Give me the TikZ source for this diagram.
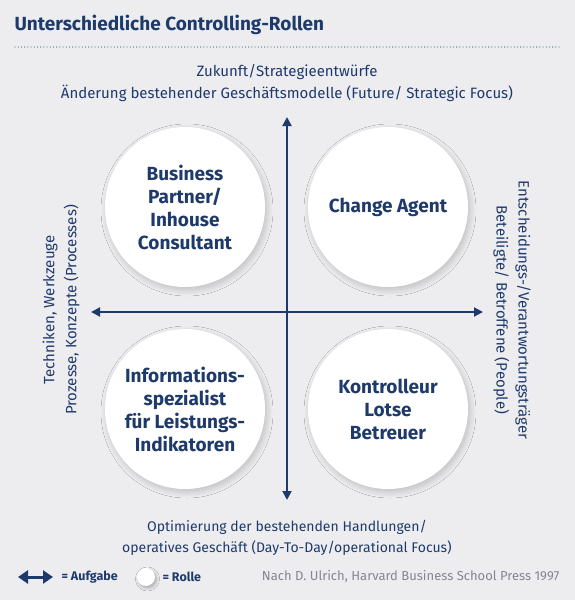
\documentclass[tikz,border=0pt]{standalone}
\usepackage{fontspec}
\setmainfont{Fira Sans}
\usepackage{tikz}
\usetikzlibrary{arrows.meta,positioning,shadows.blur}

\definecolor{navy}{HTML}{1E3A6B}
\definecolor{bggray}{HTML}{EDEDF0}
\definecolor{srcgray}{HTML}{858592}

\begin{document}
\begin{tikzpicture}[x=1pt, y=-1pt,
        rolle/.style  = {circle, fill=white, minimum size=160pt, inner sep=0pt,
                         align=center, text=navy,
                         font=\bfseries\fontsize{19}{23}\selectfont,
                         blur shadow={shadow xshift=2pt, shadow yshift=-3pt,
                                      shadow blur radius=6pt, shadow blur steps=12,
                                      shadow opacity=20}},
        achse/.style  = {{Triangle[length=9pt, width=9pt]}-{Triangle[length=9pt, width=9pt]},
                         line width=1.9pt, navy},
        lbl/.style    = {align=center, text=navy, font=\fontsize{15}{22}\selectfont},
    ]
        % ---- hintergrund ----
        \fill[bggray] (0,0) rectangle (575,600);
        \useasboundingbox (0,0) rectangle (575,600);

        % ---- titel ----
        \node (titel) [anchor=west, text=navy, font=\bfseries\fontsize{19}{21}\selectfont]
            at (11,25) {Unterschiedliche Controlling-Rollen};
        \coordinate (d1) at (15,47);
        \coordinate (d2) at (560,47);
        \draw[navy!70, line width=1.3pt, line cap=round, dash pattern=on 0pt off 3.2pt] (d1) -- (d2);

        % ---- achsen: kreuz bei (287,312) ----
        \coordinate (oben)   at (287,117);
        \coordinate (unten)  at (287,500);
        \coordinate (links)  at (91,312);
        \coordinate (rechts) at (483,312);
        \draw[achse] (unten) -- (oben);
        \draw[achse] (links) -- (rechts);

        % ---- rollen ----
        \node (BP) [rolle] at (185,207) {Business\\Partner/\\Inhouse\\Consultant};
        \node (CA) [rolle] at (388,207) {Change Agent};
        \node (IS) [rolle] at (185,409) {Informations-\\spezialist\\für Leistungs-\\Indikatoren};
        \node (KL) [rolle] at (388,409) {Kontrolleur\\Lotse\\Betreuer};

        % ---- achsenbeschriftungen ----
        \node (zukunft) [lbl] at (287,83)
            {Zukunft/Strategieentwürfe\\Änderung bestehender Geschäftsmodelle (Future/ Strategic Focus)};
        \node (optim) [lbl, font=\fontsize{14}{21}\selectfont] at (287,538)
            {Optimierung der bestehenden Handlungen/\\operatives Geschäft (Day-To-Day/operational Focus)};
        \node (technik) [lbl, rotate=90] at (61,310)
            {Techniken, Werkzeuge\\Prozesse, Konzepte (Processes)};
        \node (people) [lbl, rotate=-90] at (512,310)
            {Entscheidungs-/Verantwortungsträger\\Beteiligte/ Betroffene (People)};

        % ---- legende ----
        \coordinate (la) at (18,577);
        \coordinate (lb) at (53,577);
        \draw[navy, line width=3pt, {Triangle[length=10pt, width=13pt]}-{Triangle[length=10pt, width=13pt]}] (la) -- (lb);
        \node (aufgabe) [anchor=west, text=navy, font=\bfseries\fontsize{12.5}{14}\selectfont]
            at (58,577) {= Aufgabe};
        \node (kreis) [circle, fill=white, minimum size=18pt, inner sep=0pt,
            blur shadow={shadow xshift=1.5pt, shadow yshift=-2pt, shadow blur radius=3pt,
                         shadow blur steps=6, shadow opacity=30}]
            at (146,577) {};
        \node (rolle) [anchor=west, text=navy, font=\bfseries\fontsize{12.5}{14}\selectfont]
            at (159,577) {= Rolle};
        \node (quelle) [anchor=east, text=srcgray, font=\fontsize{13}{15}\selectfont]
            at (563,577) {Nach D. Ulrich, Harvard Business School Press 1997};
    \end{tikzpicture}
\end{document}
